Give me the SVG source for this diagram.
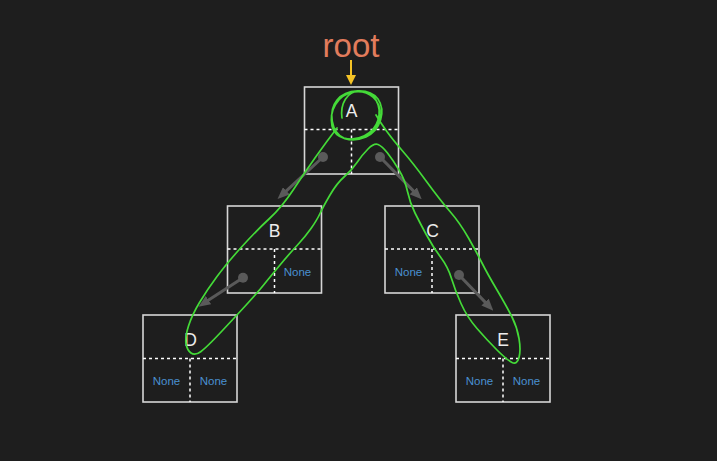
<svg xmlns="http://www.w3.org/2000/svg" width="717" height="461" viewBox="0 0 717 461">
<defs>
<style>
.box{fill:none;stroke:#d6d6d6;stroke-width:1.6}
.dash{stroke:#ffffff;stroke-width:1.5;stroke-dasharray:3 3;fill:none}
.lbl{font-family:"Liberation Sans",Arial,sans-serif;font-size:17.5px;fill:#ececec;text-anchor:middle}
.none{font-family:"Liberation Sans",Arial,sans-serif;font-size:11.5px;fill:#4a90d0;text-anchor:middle}
.ptr{stroke:#5a5a5a;stroke-width:3;fill:none;marker-end:url(#ah)}
.pin{fill:#5a5a5a}
.scribble{fill:none;stroke:#44da38;stroke-width:1.7;stroke-linecap:round;stroke-linejoin:round}
</style>
<marker id="ah" viewBox="0 0 12 10" refX="4" refY="5" markerWidth="12" markerHeight="10" markerUnits="userSpaceOnUse" orient="auto"><path d="M0,0 L12,5 L0,10 z" fill="#5a5a5a"/></marker>
<marker id="yh" viewBox="0 0 10 10" refX="2" refY="5" markerWidth="10" markerHeight="10" markerUnits="userSpaceOnUse" orient="auto"><path d="M0,0 L10,5 L0,10 z" fill="#f5c326"/></marker>
</defs>
<rect x="0" y="0" width="717" height="461" fill="#1e1e1e"/>
<g id="root-label">
<text x="351" y="57" font-family="'Liberation Sans',Arial,sans-serif" font-size="33" fill="#e27c5c" text-anchor="middle">root</text>
</g>
<g id="node-A">
<rect class="box" x="304.5" y="87" width="94" height="87"/>
<line class="dash" x1="304.5" y1="129.5" x2="398.5" y2="129.5"/>
<line class="dash" x1="351.5" y1="129.5" x2="351.5" y2="174"/>
<text class="lbl" x="351.5" y="117">A</text>
</g>
<g id="node-B">
<rect class="box" x="227.5" y="206" width="94" height="87"/>
<line class="dash" x1="227.5" y1="249" x2="321.5" y2="249"/>
<line class="dash" x1="274.5" y1="249" x2="274.5" y2="293"/>
<text class="lbl" x="274.5" y="236.5">B</text>
<text class="none" x="297.5" y="276">None</text>
</g>
<g id="node-C">
<rect class="box" x="385" y="206" width="94" height="87"/>
<line class="dash" x1="385" y1="249" x2="479" y2="249"/>
<line class="dash" x1="432" y1="249" x2="432" y2="293"/>
<text class="lbl" x="432.5" y="236.5">C</text>
<text class="none" x="408.5" y="275.5">None</text>
</g>
<g id="node-D">
<rect class="box" x="143" y="315" width="94" height="87"/>
<line class="dash" x1="143" y1="358.5" x2="237" y2="358.5"/>
<line class="dash" x1="190" y1="358.5" x2="190" y2="402"/>
<text class="lbl" x="190.5" y="346">D</text>
<text class="none" x="166.5" y="385">None</text>
<text class="none" x="213.5" y="385">None</text>
</g>
<g id="node-E">
<rect class="box" x="456" y="315" width="94" height="87"/>
<line class="dash" x1="456" y1="358.5" x2="550" y2="358.5"/>
<line class="dash" x1="503" y1="358.5" x2="503" y2="402"/>
<text class="lbl" x="503" y="346">E</text>
<text class="none" x="479.5" y="385">None</text>
<text class="none" x="526.5" y="385">None</text>
</g>
<g id="connectors">
<line x1="351" y1="60" x2="351" y2="77" stroke="#f5c326" stroke-width="2" marker-end="url(#yh)"/>
<circle class="pin" cx="323" cy="157" r="5"/>
<line class="ptr" x1="323" y1="157" x2="283.4" y2="193.6"/>
<circle class="pin" cx="380" cy="157" r="5"/>
<line class="ptr" x1="380" y1="157" x2="416.1" y2="193.6"/>
<circle class="pin" cx="243" cy="277.7" r="5"/>
<line class="ptr" x1="243" y1="277.7" x2="205.2" y2="302.3"/>
<circle class="pin" cx="459" cy="275" r="5"/>
<line class="ptr" x1="459" y1="275" x2="487.8" y2="304.9"/>
</g>
<g id="scribble">
<path class="scribble" d="M342,118 C340,104 347,91 360,91 C375,91 382,106 378,120 C374,134 357,142 344,138 C331,133 328,111 337,100 C346,89 369,87 378,99 C386,111 381,130 366,137 C352,143 335,139 332,126 C329,111 337,95 354,92 C369,90 381,100 380,115 C379,126 372,134 362,138"/>
<path class="scribble" d="M337,128 Q327,141 316,156.5 Q305,172 293.5,189.5 Q282,207 269.5,218.5 Q257,230 242,246.5 Q227,263 217,276.5 Q207,290 199.5,302.5 Q192,315 188.5,326 Q185,337 186,343.5 Q187,350 191,353 Q195,356 201,351.5 Q207,347 222,331 Q237,315 247.5,303.5 Q258,292 264,284.5 Q270,277 280,265 Q290,253 297.5,245 Q305,237 311,228.5 Q317,220 320,213.5 Q323,207 330,195 Q337,183 344.5,176.5 Q352,170 357,162.5 Q362,155 368,149 Q374,143 378,144.5 Q382,146 387.5,153 Q393,160 399,170 Q405,180 407.5,191.5 Q410,203 415,213 Q420,223 426.5,235 Q433,247 440.5,257 Q448,267 451.5,278.5 Q455,290 461,303.5 Q467,317 477,328.5 Q487,340 497,350 Q507,360 512,362.5 Q517,365 519,357.5 Q521,350 519,338.5 Q517,327 512,317 Q507,307 497,290 Q487,273 482,263 Q477,253 468.5,238 Q460,223 450,211.5 Q440,200 426.5,181.5 Q413,163 403,151.5 Q393,140 386.5,131 Q380,122 376,115"/>
</g>
</svg>
